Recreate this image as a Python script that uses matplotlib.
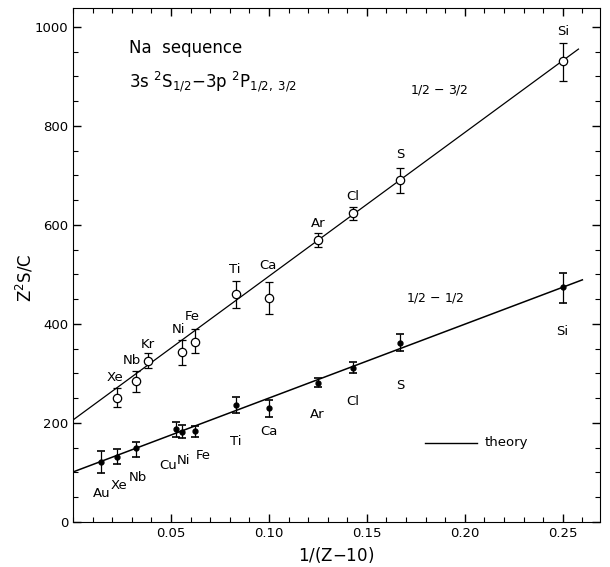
import matplotlib.pyplot as plt
from matplotlib.ticker import MultipleLocator

# 1/2 - 3/2 component (open circles)
hi_names = ['Xe', 'Nb', 'Kr', 'Ni', 'Fe', 'Ti', 'Ca', 'Ar', 'Cl', 'S', 'Si']
hi_x = [0.0227, 0.0323, 0.0385, 0.0556, 0.0625, 0.0833, 0.1000, 0.1250, 0.1429, 0.1667, 0.2500]
hi_y = [250, 285, 325, 343, 364, 461, 452, 570, 624, 691, 931]
hi_top = [271, 305, 341, 368, 390, 487, 485, 584, 636, 715, 967]
hi_bot = [232, 263, 311, 317, 341, 432, 420, 556, 610, 665, 891]

# 1/2 - 1/2 component (filled dots)
lo_names = ['Au', 'Xe', 'Nb', 'Cu', 'Ni', 'Fe', 'Ti', 'Ca', 'Ar', 'Cl', 'S', 'Si']
lo_x = [0.0145, 0.0227, 0.0323, 0.0526, 0.0556, 0.0625, 0.0833, 0.1000, 0.1250, 0.1429, 0.1667, 0.2500]
lo_y = [121, 132, 150, 188, 182, 184, 236, 230, 281, 311, 362, 474]
lo_top = [143, 147, 162, 202, 196, 194, 252, 246, 291, 323, 380, 503]
lo_bot = [99, 117, 132, 172, 170, 172, 220, 212, 273, 301, 345, 442]

# theory lines
theory_hi_x = [0.0, 0.258]
theory_hi_y = [206, 955]
theory_lo_x = [0.0, 0.260]
theory_lo_y = [101, 489]

# label offsets in pixels (layout only)
hi_off = [(-3, 21), (-4, 20), (-1, 17), (-3, 23), (-3, 25), (-1, 24), (-1, 33),
          (0, 16), (0, 16), (1, 25), (0, 29)]
lo_off = [(0, -31), (1, -29), (2, -30), (-8, -37), (2, -29), (8, -25), (0, -36),
          (0, -23), (-1, -32), (0, -34), (1, -43), (-1, -44)]

fig = plt.figure(figsize=(6.1, 5.67), dpi=100)
ax = fig.add_axes([0.1197, 0.0794, 0.8639, 0.9065])

ax.plot(theory_hi_x, theory_hi_y, color='black', lw=0.9, zorder=1)
ax.plot(theory_lo_x, theory_lo_y, color='black', lw=1.1, zorder=1)

hi_err = [[y - b for y, b in zip(hi_y, hi_bot)], [t - y for y, t in zip(hi_y, hi_top)]]
lo_err = [[y - b for y, b in zip(lo_y, lo_bot)], [t - y for y, t in zip(lo_y, lo_top)]]

ax.errorbar(hi_x, hi_y, yerr=hi_err, fmt='o', ms=6, mfc='white', mec='black', mew=0.9,
            ecolor='black', elinewidth=0.9, capsize=3, capthick=1.2, zorder=3)
ax.errorbar(lo_x, lo_y, yerr=lo_err, fmt='o', ms=3.5, mfc='black', mec='black',
            ecolor='black', elinewidth=0.9, capsize=3, capthick=1.2, zorder=3)

for name, x, y, off in zip(hi_names, hi_x, hi_y, hi_off):
    ax.annotate(name, (x, y), xytext=off, textcoords='offset pixels',
                ha='center', va='center', fontsize=9.5)
for name, x, y, off in zip(lo_names, lo_x, lo_y, lo_off):
    ax.annotate(name, (x, y), xytext=off, textcoords='offset pixels',
                ha='center', va='center', fontsize=9.5)

ax.text(0.0286, 958, 'Na  sequence', fontsize=12, ha='left', va='center')
ax.text(0.0286, 889, r'3s $^2$S$_{1/2}$$-$3p $^2$P$_{1/2,\ 3/2}$', fontsize=12,
        ha='left', va='center')
ax.text(0.187, 873, r'1/2 $-$ 3/2', fontsize=9, ha='center', va='center')
ax.text(0.185, 452, r'1/2 $-$ 1/2', fontsize=9, ha='center', va='center')

# theory key
ax.plot([0.1796, 0.206], [160, 160], color='black', lw=1.0)
ax.text(0.210, 160, 'theory', fontsize=9.5, ha='left', va='center')

ax.set_xlim(0, 0.269)
ax.set_ylim(0, 1038)
ax.set_xticks([0.05, 0.10, 0.15, 0.20, 0.25])
ax.set_xticklabels(['0.05', '0.10', '0.15', '0.20', '0.25'])
ax.xaxis.set_minor_locator(MultipleLocator(0.01))
ax.set_yticks([0, 200, 400, 600, 800, 1000])
ax.yaxis.set_minor_locator(MultipleLocator(50))
ax.tick_params(which='both', direction='in', top=True, right=True, labelsize=9.5)
ax.tick_params(which='major', length=6, width=1)
ax.tick_params(which='minor', length=3.5, width=0.8)

ax.set_xlabel(r'1/(Z$-$10)', fontsize=12, labelpad=4)
ax.set_ylabel(r'Z$^2$S/C', fontsize=12)
ax.yaxis.set_label_coords(-0.072, 0.475)

plt.savefig('out.png', dpi=100)
